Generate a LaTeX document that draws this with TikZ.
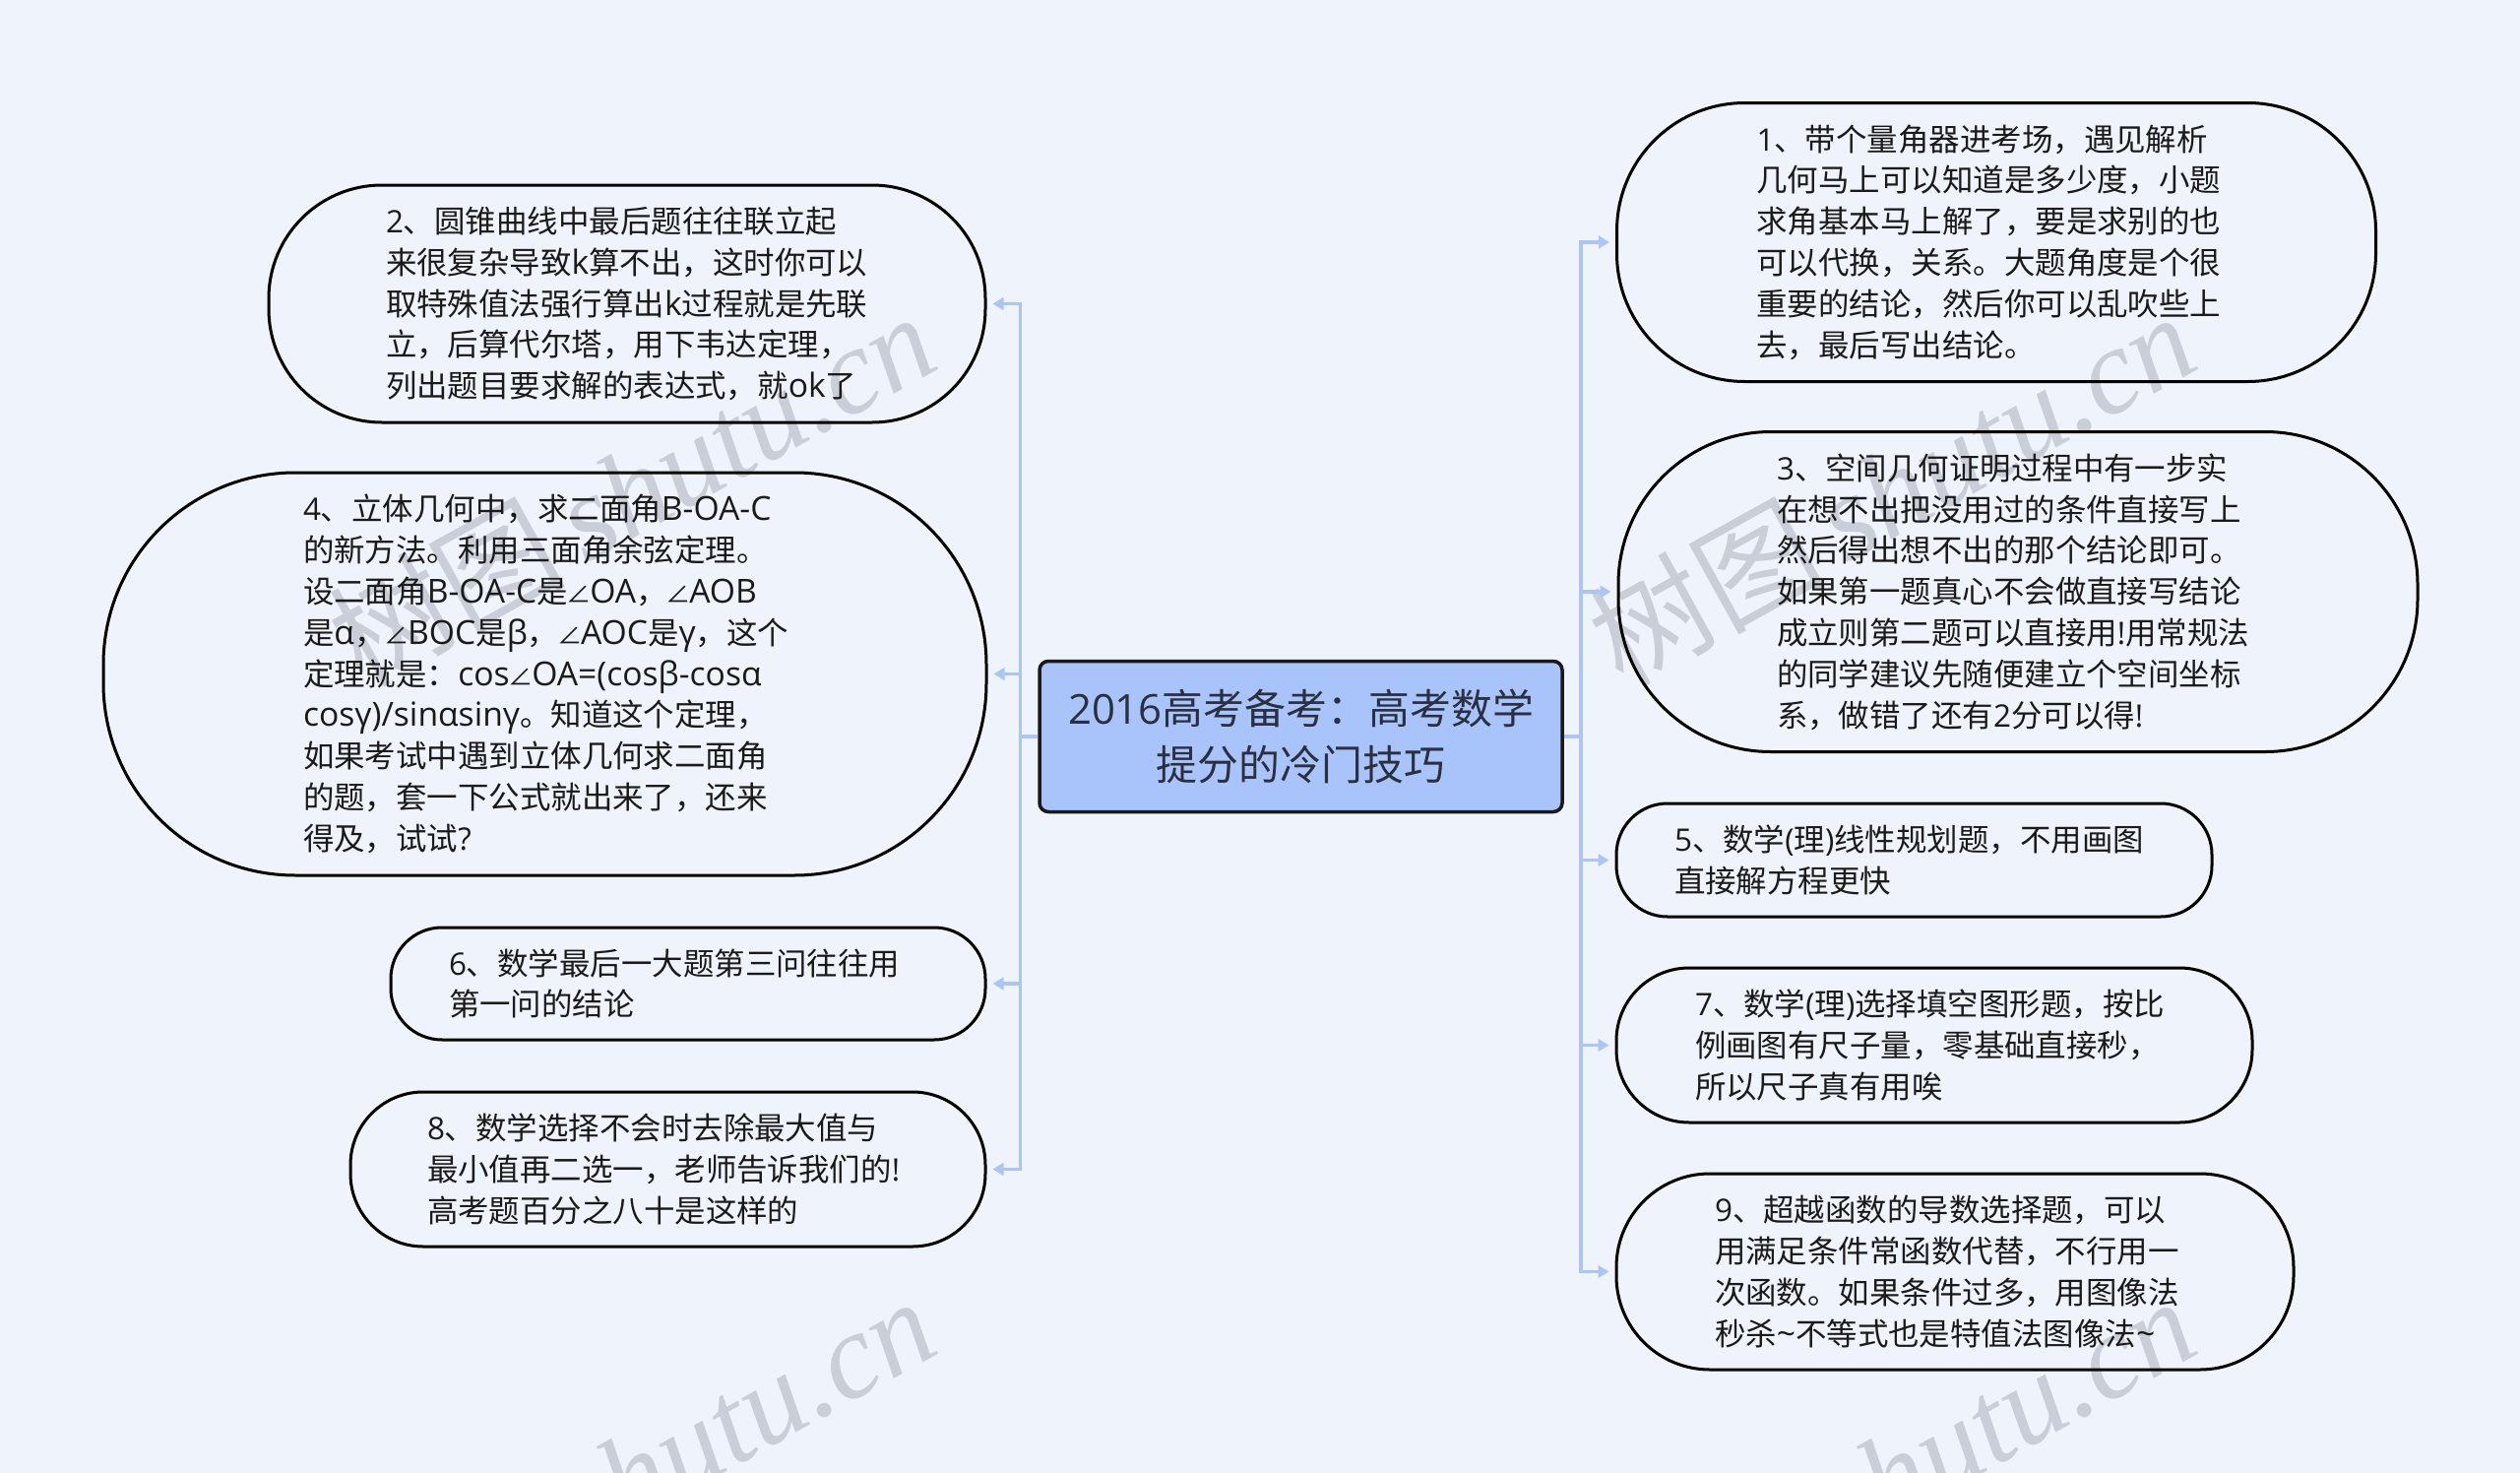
\documentclass[tikz,border=0pt]{standalone}
\usepackage{graphicx}
\usepackage{fontspec}
\setmainfont{Noto Sans CJK SC}
\newfontfamily\wmlatin{Liberation Serif}[ItalicFont=* Italic,Scale=1.03]
\newfontfamily\latf{Open Sans}
\newfontfamily\latw{Open Sans}[Scale=1.07]
\newcommand\ltn[1]{{\latf #1}}
\newcommand\lta[1]{{\latw #1}}
\newcommand\angl{\makebox[.72em][c]{\scalebox{.8}{∠}}}
\newcommand\wmtext{树图\hspace{20pt}{\wmlatin\itshape shutu.cn}}
\usetikzlibrary{arrows.meta}
\definecolor{bgc}{HTML}{EEF3FC}
\definecolor{rootc}{HTML}{A9C4FA}
\definecolor{linec}{HTML}{ABC6F5}
\definecolor{inkc}{HTML}{1A1A1A}
\definecolor{rootink}{HTML}{2B3040}
\definecolor{wmc}{HTML}{C9CED8}
\tikzset{
  x=1pt,y=-1pt,
  bub/.style={draw=black,line width=3pt,fill=none,text=inkc,align=left,inner sep=0pt,
    font=\fontsize{31.45}{41.8}\selectfont},
  rootbox/.style={draw=black!90,line width=3.5pt,fill=rootc,rounded corners=9pt,align=center,inner sep=0pt,
    text=rootink,font=\fontsize{41.9}{56.5}\selectfont},
  conn/.style={draw=linec,line width=3.4pt,-{Triangle[length=11pt,width=12.5pt]},shorten >=6pt},
  wm/.style={text=wmc,rotate=29,anchor=west,inner sep=0pt,font=\fontsize{120}{120}\selectfont},
}
\begin{document}
\begin{tikzpicture}
\useasboundingbox (0,0) rectangle (2560,1496);
\fill[bgc] (0,0) rectangle (2560,1496);
% watermarks
\node[wm] (w1) at (346,660) {\wmtext};
\node[wm] (w2) at (1626,660) {\wmtext};
\node[wm] (w3) at (346,1660) {\wmtext};
\node[wm] (w4) at (1626,1660) {\wmtext};
% root
\node[rootbox,minimum width=531pt,minimum height=153pt] (root) at (1321.5,748) {\ltn{2016}高考备考：高考数学\\提分的冷门技巧};
% right
\node[bub,rounded corners=130pt,minimum width=771pt,minimum height=283pt,text width=487pt] (n1) at (2028,246) {\ltn{1}、带个量角器进考场，遇见解析\\几何马上可以知道是多少度，小题\\求角基本马上解了，要是求别的也\\可以代换，关系。大题角度是个很\\重要的结论，然后你可以乱吹些上\\去，最后写出结论。};
\node[bub,rounded corners=155pt,minimum width=812pt,minimum height=325pt,text width=490pt] (n3) at (2050,601) {\ltn{3}、空间几何证明过程中有一步实\\在想不出把没用过的条件直接写上\\然后得出想不出的那个结论即可。\\如果第一题真心不会做直接写结论\\成立则第二题可以直接用\ltn{!}用常规法\\的同学建议先随便建立个空间坐标\\系，做错了还有\ltn{2}分可以得\ltn{!}};
\node[bub,rounded corners=52pt,minimum width=605pt,minimum height=115pt,text width=487pt] (n5) at (1944.5,873.5) {\ltn{5}、数学\ltn{(}理\ltn{)}线性规划题，不用画图\\直接解方程更快};
\node[bub,rounded corners=74pt,minimum width=646pt,minimum height=157pt,text width=486pt] (n7) at (1965,1061.5) {\ltn{7}、数学\ltn{(}理\ltn{)}选择填空图形题，按比\\例画图有尺子量，零基础直接秒，\\所以尺子真有用唉};
\node[bub,rounded corners=95pt,minimum width=688pt,minimum height=199pt,text width=488pt] (n9) at (1986,1291.5) {\ltn{9}、超越函数的导数选择题，可以\\用满足条件常函数代替，不行用一\\次函数。如果条件过多，用图像法\\秒杀\lta{\textasciitilde}不等式也是特值法图像法\lta{\textasciitilde}};
% left
\node[bub,rounded corners=115pt,minimum width=728pt,minimum height=241pt,text width=490pt] (n2) at (637,308.5) {\ltn{2}、圆锥曲线中最后题往往联立起\\来很复杂导致\lta{k}算不出，这时你可以\\取特殊值法强行算出\lta{k}过程就是先联\\立，后算代尔塔，用下韦达定理，\\列出题目要求解的表达式，就\lta{ok}了};
\node[bub,rounded corners=195pt,minimum width=897pt,minimum height=409pt,text width=491pt] (n4) at (553.5,684.5) {\ltn{4}、立体几何中，求二面角\lta{B-OA-C}\\的新方法。利用三面角余弦定理。\\设二面角\lta{B-OA-C}是\angl\lta{OA}，\angl\lta{AOB}\\是\lta{α}，\angl\lta{BOC}是\lta{β}，\angl\lta{AOC}是\lta{γ}，这个\\定理就是：\lta{cos}\angl\lta{OA=(cosβ-cosα}\\\lta{cosγ)/sinαsinγ}。知道这个定理，\\如果考试中遇到立体几何求二面角\\的题，套一下公式就出来了，还来\\得及，试试\ltn{?}};
\node[bub,rounded corners=52pt,minimum width=604pt,minimum height=114pt,text width=486pt] (n6) at (699,999) {\ltn{6}、数学最后一大题第三问往往用\\第一问的结论};
\node[bub,rounded corners=74pt,minimum width=645pt,minimum height=157pt,text width=489pt] (n8) at (678.5,1187.5) {\ltn{8}、数学选择不会时去除最大值与\\最小值再二选一，老师告诉我们的\ltn{!}\\高考题百分之八十是这样的};
% trunks
\coordinate (tl) at (1036.5,0);
\coordinate (tr) at (1606,0);
\foreach \t in {n2,n4,n6,n8} \draw[conn] (root.west) -- (root.west -| tl) |- (\t.east);
\foreach \t in {n1,n3,n5,n7,n9} \draw[conn] (root.east) -- (root.east -| tr) |- (\t.west);
\end{tikzpicture}
\end{document}
